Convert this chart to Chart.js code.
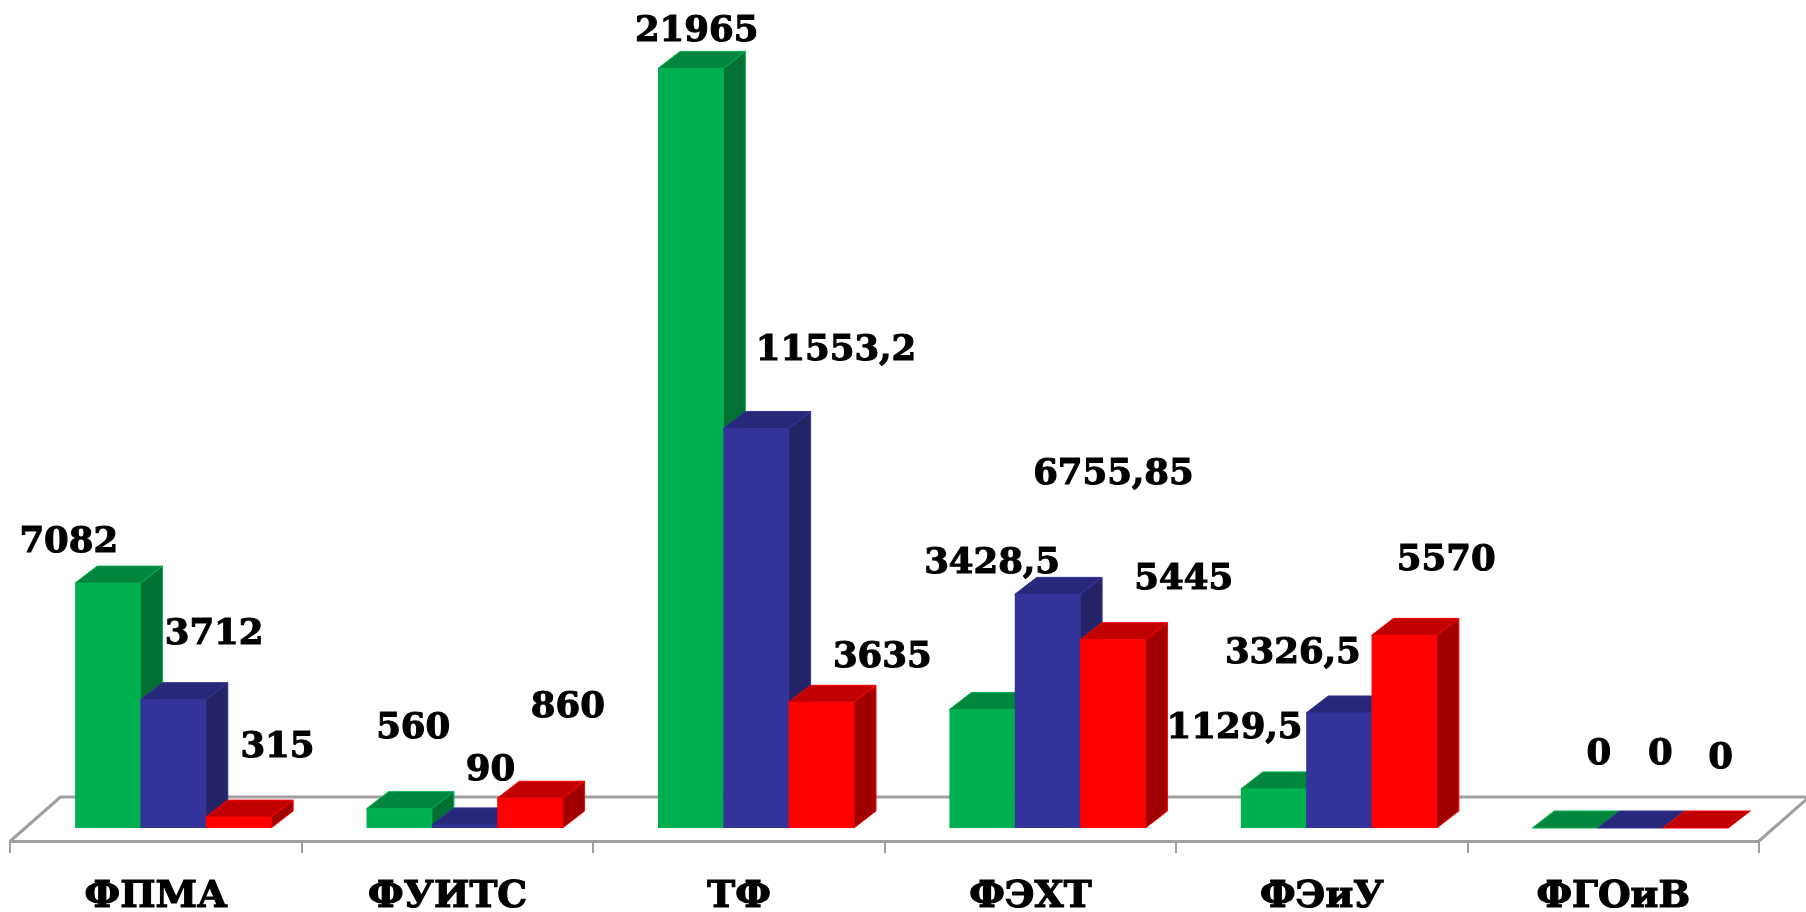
<!DOCTYPE html>
<html lang="ru">
<head>
<meta charset="utf-8">
<title>Chart</title>
<script src="https://cdn.jsdelivr.net/npm/chart.js@4"></script>
<style>
  html, body { margin: 0; padding: 0; background: #fff; overflow: hidden; }
  #wrap { width: 1806px; height: 912px; }
</style>
</head>
<body>
<div id="wrap"><canvas id="chart" width="1806" height="912"></canvas></div>
<script>
const categories = ['ФПМА', 'ФУИТС', 'ТФ', 'ФЭХТ', 'ФЭиУ', 'ФГОиВ'];

const greenValues = [7082, 560, 21965, 3428.5, 1129.5, 0];
const blueValues = [3712, 90, 11553.2, 6755.85, 3326.5, 0];
const redValues = [315, 860, 3635, 5445, 5570, 0];

// position of the value labels, relative to the top of their bar
const greenLabelDx = [-39, 14, 6, 10, -39, 34];
const greenLabelDy = [-40, -80, -37, -146, -60, -73];
const blueLabelDx = [41, 26, 80, 66, -46, 30];
const blueLabelDy = [-65, -54, -78, -120, -59, -73];
const redLabelDx = [39, 38, 61, 71, 42, 25];
const redLabelDy = [-69, -90, -45, -60, -75, -69];

// 3d look: how far the bars stand from the front edge of the floor
const shiftX = 17, shiftY = -13;
const depthX = 22, depthY = -17;
const floorX = 50, floorY = -44;

const FONT = '"DejaVu Serif"';
const AXIS_GREY = '#a0a0a0';

const faces = [
    { front: '#00B050', side: '#007033', top: '#00873D' },
    { front: '#333399', side: '#232366', top: '#28287A' },
    { front: '#FF0000', side: '#A00000', top: '#C00000' }
];
const labelDx = [greenLabelDx, blueLabelDx, redLabelDx];
const labelDy = [greenLabelDy, blueLabelDy, redLabelDy];

function poly(ctx, pts, fill, stroke) {
    ctx.beginPath();
    pts.forEach((p, i) => i ? ctx.lineTo(p[0], p[1]) : ctx.moveTo(p[0], p[1]));
    ctx.closePath();
    ctx.fillStyle = fill;
    ctx.fill();
    ctx.strokeStyle = stroke;
    ctx.lineWidth = 1;
    ctx.stroke();
}

const bars3d = {
    id: 'bars3d',
    // floor first, then the bars from left to right so each one covers its neighbour's side
    beforeDatasetsDraw(chart) {
        const ctx = chart.ctx, a = chart.chartArea;
        ctx.save();
        ctx.strokeStyle = AXIS_GREY;
        ctx.lineWidth = 3;
        ctx.beginPath();
        ctx.moveTo(a.left, a.bottom);
        ctx.lineTo(a.left + floorX, a.bottom + floorY);
        ctx.lineTo(chart.width, a.bottom + floorY);
        ctx.moveTo(a.right, a.bottom);
        ctx.lineTo(a.right + floorX, a.bottom + floorY);
        ctx.stroke();
        ctx.restore();

        ctx.save();
        ctx.translate(shiftX, shiftY);
        chart.data.datasets.forEach((ds, d) => {
            const meta = chart.getDatasetMeta(d), f = faces[d];
            meta.controller.draw();
            meta.data.forEach(bar => {
                const { x, y, base, width } = bar.getProps(['x', 'y', 'base', 'width'], true);
                const r = x + width / 2, l = x - width / 2;
                if (base - y > 0.5) {
                    poly(ctx, [[r, y], [r + depthX, y + depthY], [r + depthX, base + depthY], [r, base]], f.side, f.front);
                }
                poly(ctx, [[l, y], [l + depthX, y + depthY], [r + depthX, y + depthY], [r, y]], f.top, f.front);
            });
        });
        ctx.restore();
    },
    // already drawn above
    beforeDatasetDraw() {
        return false;
    },
    // value labels go on top of everything
    afterDatasetsDraw(chart) {
        const ctx = chart.ctx;
        ctx.save();
        ctx.font = 'bold 35.5px ' + FONT;
        ctx.fillStyle = '#000';
        ctx.strokeStyle = '#000';
        ctx.lineWidth = 1.1;
        ctx.textAlign = 'center';
        ctx.textBaseline = 'middle';
        chart.data.datasets.forEach((ds, d) => {
            chart.getDatasetMeta(d).data.forEach((bar, i) => {
                const text = String(ds.data[i]).replace('.', ',');
                const tx = bar.x + shiftX + labelDx[d][i], ty = bar.y + shiftY + labelDy[d][i];
                ctx.fillText(text, tx, ty);
                ctx.strokeText(text, tx, ty);
            });
        });
        ctx.restore();
    }
};

new Chart(document.getElementById('chart'), {
    type: 'bar',
    data: {
        labels: categories,
        datasets: [
            { label: 'green', data: greenValues, backgroundColor: faces[0].front },
            { label: 'blue', data: blueValues, backgroundColor: faces[1].front },
            { label: 'red', data: redValues, backgroundColor: faces[2].front }
        ]
    },
    options: {
        responsive: false,
        animation: false,
        layout: { padding: { left: 10.4, right: 47, top: 11, bottom: 0 } },
        datasets: { bar: { barPercentage: 1, categoryPercentage: 0.6726, clip: false } },
        plugins: { legend: { display: false }, tooltip: { enabled: false } },
        scales: {
            x: {
                grid: {
                    display: true,
                    offset: true,
                    drawOnChartArea: false,
                    drawTicks: true,
                    tickLength: 12,
                    color: AXIS_GREY,
                    lineWidth: 2
                },
                border: { display: true, color: AXIS_GREY, width: 3 },
                ticks: {
                    color: '#000',
                    padding: 22,
                    maxRotation: 0,
                    textStrokeColor: '#000',
                    textStrokeWidth: 1.2,
                    font: { family: FONT, size: 37.5, weight: 'bold' }
                },
                afterFit(scale) { scale.height = 71; }
            },
            y: { display: false, min: 0, max: 24000 }
        }
    },
    plugins: [bars3d]
});
</script>
</body>
</html>
